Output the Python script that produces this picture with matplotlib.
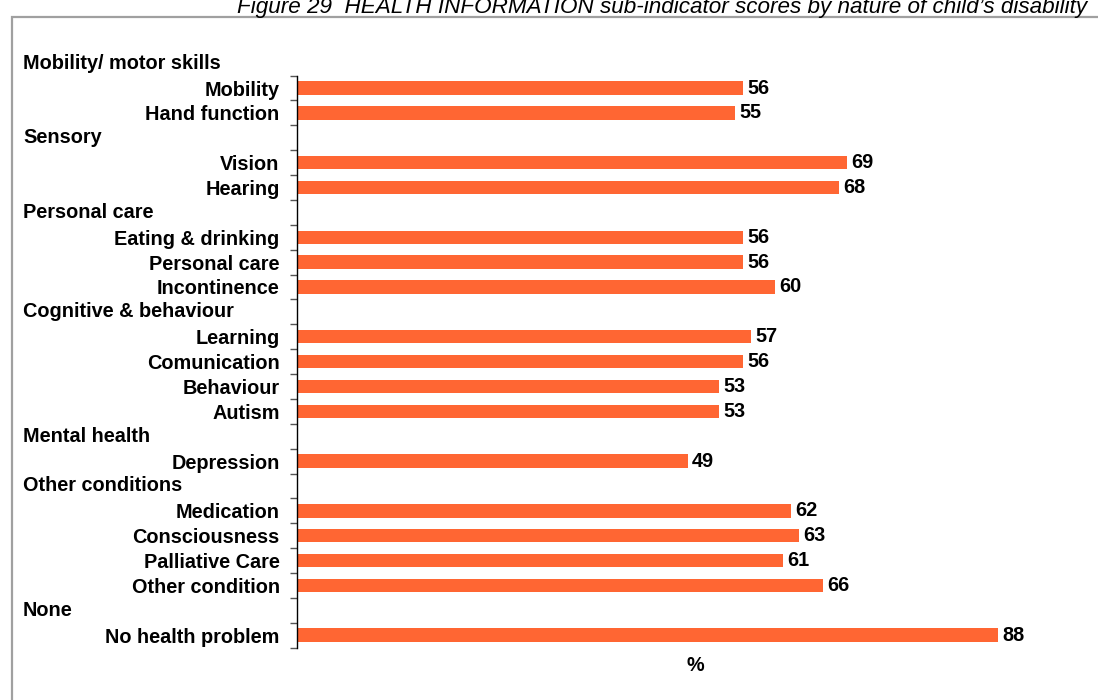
import numpy as np
import matplotlib
matplotlib.use("Agg")
import matplotlib.pyplot as plt
from matplotlib.patches import Rectangle
from matplotlib.transforms import blended_transform_factory

plt.rcParams['font.family'] = ['Liberation Sans', 'DejaVu Sans']

title = "Figure 29  HEALTH INFORMATION sub-indicator scores by nature of child\u2019s disability"

# group headings and the items under each
groups = ["Mobility/ motor skills", "Sensory", "Personal care",
          "Cognitive & behaviour", "Mental health", "Other conditions", "None"]
mobility = ["Mobility", "Hand function"]
mobility_scores = [56, 55]
sensory = ["Vision", "Hearing"]
sensory_scores = [69, 68]
personal = ["Eating & drinking", "Personal care", "Incontinence"]
personal_scores = [56, 56, 60]
cognitive = ["Learning", "Comunication", "Behaviour", "Autism"]
cognitive_scores = [57, 56, 53, 53]
mental = ["Depression"]
mental_scores = [49]
other = ["Medication", "Consciousness", "Palliative Care", "Other condition"]
other_scores = [62, 63, 61, 66]
none = ["No health problem"]
none_scores = [88]

items = [mobility, sensory, personal, cognitive, mental, other, none]
scores = [mobility_scores, sensory_scores, personal_scores, cognitive_scores,
          mental_scores, other_scores, none_scores]

# lay out rows: heading row followed by its items
rows = []
for g, names, vals in zip(groups, items, scores):
    rows.append((g, None))
    for n, v in zip(names, vals):
        rows.append((n, v))
n_rows = len(rows)
ypos = np.arange(n_rows)

fig = plt.figure(figsize=(10.98, 7), dpi=100)
W, H = 1098, 700

# chart frame
fig.patches.append(Rectangle((11.5 / W, -0.1), 1.2, (H - 17) / H + 0.1,
                             transform=fig.transFigure, fill=False,
                             edgecolor="#a0a0a0", linewidth=1.6))

fig.text(237 / W, 1 - 13.5 / H, title, fontsize=16.2, style="italic",
         ha="left", va="baseline")

ax = fig.add_axes([297 / W, 52.4 / H, 797 / W, 572 / H])
bar_color = "#FF6633"
fs = 14.3
head_tr = blended_transform_factory(fig.transFigure, ax.transData)

for y, (name, val) in zip(ypos, rows):
    if val is None:
        ax.text(23 / W, y, name, transform=head_tr, fontsize=fs,
                fontweight="bold", ha="left", va="center", clip_on=False)
    else:
        ax.barh(y, val, height=0.54, color=bar_color)
        ax.annotate(str(val), (val, y), xytext=(3, 0), textcoords="offset points",
                    fontsize=fs, fontweight="bold", ha="left", va="center")

item_rows = [y for y, (n, v) in zip(ypos, rows) if v is not None]
ax.set_yticks(item_rows)
ax.set_yticklabels([rows[i][0] for i in item_rows], fontsize=fs, fontweight="bold")
ax.set_yticks(np.arange(0.5, n_rows, 1), minor=True)
ax.tick_params(axis="y", which="major", length=0, pad=12.5)
ax.tick_params(axis="y", which="minor", length=5, color="#555555", width=1)
ax.set_ylim(n_rows - 0.5, 0.5)
ax.set_xlim(0, 100)
ax.set_xticks([])
for s in ["top", "right", "bottom"]:
    ax.spines[s].set_visible(False)
ax.spines["left"].set_linewidth(1)
ax.set_xlabel("%", fontsize=fs, fontweight="bold", labelpad=6)

fig.savefig("out.png", dpi=100)
